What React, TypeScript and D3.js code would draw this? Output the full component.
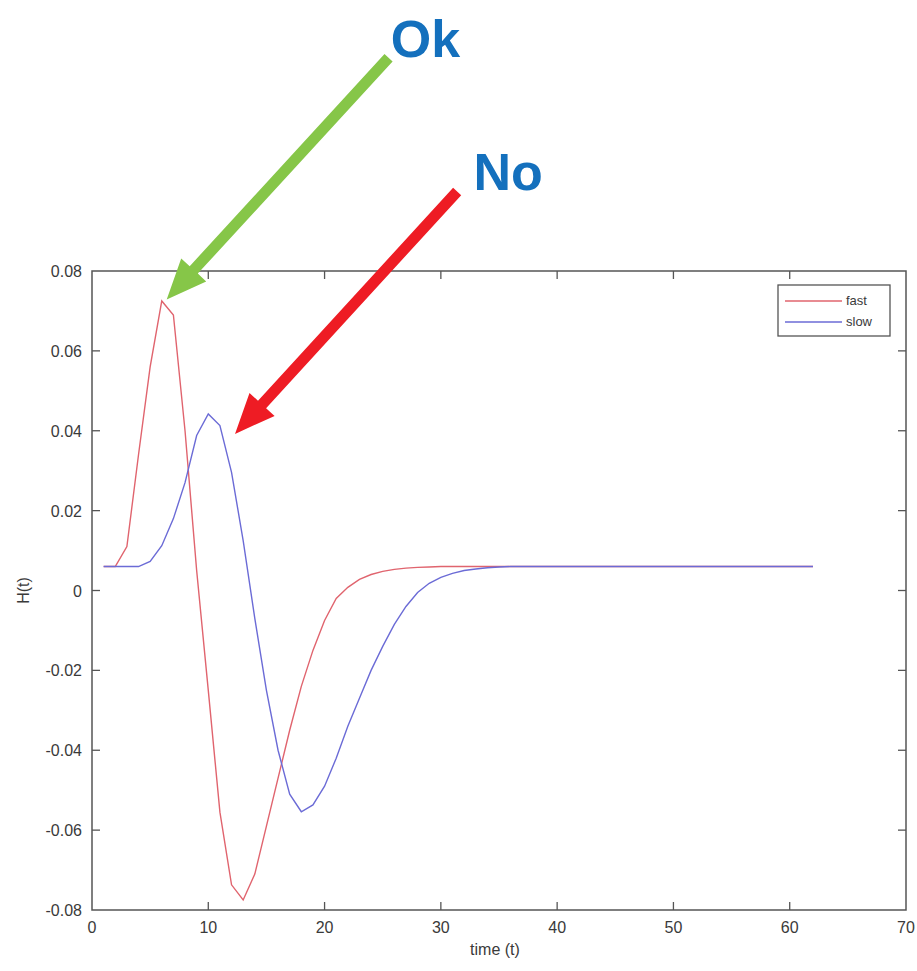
import React from "react";
import * as d3 from "d3";

const times = d3.range(1, 63);
const fastValues = [
  0.006, 0.006, 0.011, 0.034, 0.056, 0.0725, 0.069, 0.040, 0.005, -0.025,
  -0.0555, -0.0737, -0.0775, -0.071, -0.059, -0.047, -0.035, -0.024, -0.015, -0.0075,
  -0.002, 0.0008, 0.0028, 0.004, 0.0048, 0.0053, 0.0056, 0.0058, 0.0059, 0.006,
  0.006, 0.006, 0.006, 0.006, 0.006, 0.006, 0.006, 0.006, 0.006, 0.006,
  0.006, 0.006, 0.006, 0.006, 0.006, 0.006, 0.006, 0.006, 0.006, 0.006,
  0.006, 0.006, 0.006, 0.006, 0.006, 0.006, 0.006, 0.006, 0.006, 0.006,
  0.006, 0.006,
];
const slowValues = [
  0.006, 0.006, 0.006, 0.006, 0.0073, 0.0112, 0.018, 0.027, 0.0388, 0.0442,
  0.0413, 0.0296, 0.0125, -0.007, -0.025, -0.040, -0.051, -0.0554, -0.0537, -0.049,
  -0.042, -0.034, -0.027, -0.020, -0.014, -0.0085, -0.004, -0.0005, 0.0018, 0.0033,
  0.0043, 0.005, 0.0054, 0.0057, 0.0059, 0.006, 0.006, 0.006, 0.006, 0.006,
  0.006, 0.006, 0.006, 0.006, 0.006, 0.006, 0.006, 0.006, 0.006, 0.006,
  0.006, 0.006, 0.006, 0.006, 0.006, 0.006, 0.006, 0.006, 0.006, 0.006,
  0.006, 0.006,
];
const xTicks = [0, 10, 20, 30, 40, 50, 60, 70];
const yTicks = [-0.08, -0.06, -0.04, -0.02, 0, 0.02, 0.04, 0.06, 0.08];
const seriesNames = ["fast", "slow"];
const seriesColors = ["#e0646e", "#6b6bd6"];
// annotation arrows: [tailT, tailV, tipT, tipV] in data units
const annotationLabels = ["Ok", "No"];
const annotationColors = ["#86c648", "#ee1c24"];
const annotationTails = [[25.5, 0.1334], [31.4, 0.0999]];
const annotationTips = [[6.42, 0.0729], [12.3, 0.0392]];
const annotationTextPos = [[25.7, 0.1337], [32.8, 0.1003]];

const W = 917;
const H = 971;
const left = 92, right = 906, top = 271, bottom = 910;

export default function App() {
  const x = d3.scaleLinear().domain([0, 70]).range([left, right]);
  const y = d3.scaleLinear().domain([-0.08, 0.08]).range([bottom, top]);
  const line = d3
    .line<number>()
    .x((_, i) => x(times[i]))
    .y((d) => y(d));
  const series = [fastValues, slowValues];
  const axisColor = "#555";
  const textColor = "#3a3a3a";
  const font = "'Liberation Sans', Arial, sans-serif";

  const arrowPath = (tail: number[], tip: number[]) => {
    const x0 = x(tail[0]), y0 = y(tail[1]);
    const x1 = x(tip[0]), y1 = y(tip[1]);
    const dx = x1 - x0, dy = y1 - y0;
    const len = Math.hypot(dx, dy);
    const ux = dx / len, uy = dy / len;
    const nx = -uy, ny = ux;
    const w = 11, L = 40, HW = 34;
    const bx = x1 - ux * L, by = y1 - uy * L;
    const pts = [
      [x0 + nx * w / 2, y0 + ny * w / 2],
      [bx + nx * w / 2, by + ny * w / 2],
      [bx + nx * HW / 2, by + ny * HW / 2],
      [x1, y1],
      [bx - nx * HW / 2, by - ny * HW / 2],
      [bx - nx * w / 2, by - ny * w / 2],
      [x0 - nx * w / 2, y0 - ny * w / 2],
    ];
    return "M" + pts.map((p) => p[0].toFixed(1) + "," + p[1].toFixed(1)).join("L") + "Z";
  };

  return (
    <svg
      width={W}
      height={H}
      style={{ position: "absolute", left: 0, top: 0, background: "#fff" }}
      fontFamily={font}
    >
      <rect x={0} y={0} width={W} height={H} fill="#fff" />
      {/* plot frame */}
      <rect x={left} y={top} width={right - left} height={bottom - top} fill="#fff" stroke={axisColor} strokeWidth={1.5} />
      {/* x ticks */}
      {xTicks.map((t) => (
        <g key={"xt" + t}>
          {t > 0 && t < 70 && (
            <>
              <line x1={x(t)} x2={x(t)} y1={bottom} y2={bottom - 8} stroke={axisColor} strokeWidth={1.3} />
              <line x1={x(t)} x2={x(t)} y1={top} y2={top + 8} stroke={axisColor} strokeWidth={1.3} />
            </>
          )}
          <text x={x(t)} y={bottom + 23} textAnchor="middle" fontSize={16} fill={textColor}>
            {t}
          </text>
        </g>
      ))}
      {/* y ticks */}
      {yTicks.map((v) => (
        <g key={"yt" + v}>
          {v > -0.08 && v < 0.08 && (
            <>
              <line x1={left} x2={left + 8} y1={y(v)} y2={y(v)} stroke={axisColor} strokeWidth={1.3} />
              <line x1={right} x2={right - 8} y1={y(v)} y2={y(v)} stroke={axisColor} strokeWidth={1.3} />
            </>
          )}
          <text x={left - 10} y={y(v) + 6} textAnchor="end" fontSize={16} fill={textColor}>
            {v === 0 ? "0" : d3.format(".2f")(v).replace("−", "-")}
          </text>
        </g>
      ))}
      <text x={(left + right) / 2 - 4} y={bottom + 45} textAnchor="middle" fontSize={16} fill={textColor}>
        time (t)
      </text>
      <text
        transform={`translate(${29},${(top + bottom) / 2}) rotate(-90)`}
        textAnchor="middle"
        fontSize={16}
        fill={textColor}
      >
        H(t)
      </text>
      {/* series */}
      {series.map((vals, i) => (
        <path key={seriesNames[i]} d={line(vals) || ""} fill="none" stroke={seriesColors[i]} strokeWidth={1.4} />
      ))}
      {/* legend */}
      <g>
        <rect x={778} y={285} width={112} height={51} fill="#fff" stroke={axisColor} strokeWidth={1.3} />
        {seriesNames.map((n, i) => (
          <g key={"lg" + n}>
            <line x1={785} x2={842} y1={301 + i * 21} y2={301 + i * 21} stroke={seriesColors[i]} strokeWidth={1.4} />
            <text x={846} y={305 + i * 21} fontSize={13} fill={textColor}>
              {n}
            </text>
          </g>
        ))}
      </g>
      {/* annotations */}
      {annotationLabels.map((lab, i) => (
        <g key={"an" + lab}>
          <path d={arrowPath(annotationTails[i], annotationTips[i])} fill={annotationColors[i]} />
          <text
            x={x(annotationTextPos[i][0])}
            y={y(annotationTextPos[i][1])}
            fontSize={52}
            fontWeight="bold"
            fill="#1470bd"
          >
            {lab}
          </text>
        </g>
      ))}
    </svg>
  );
}
